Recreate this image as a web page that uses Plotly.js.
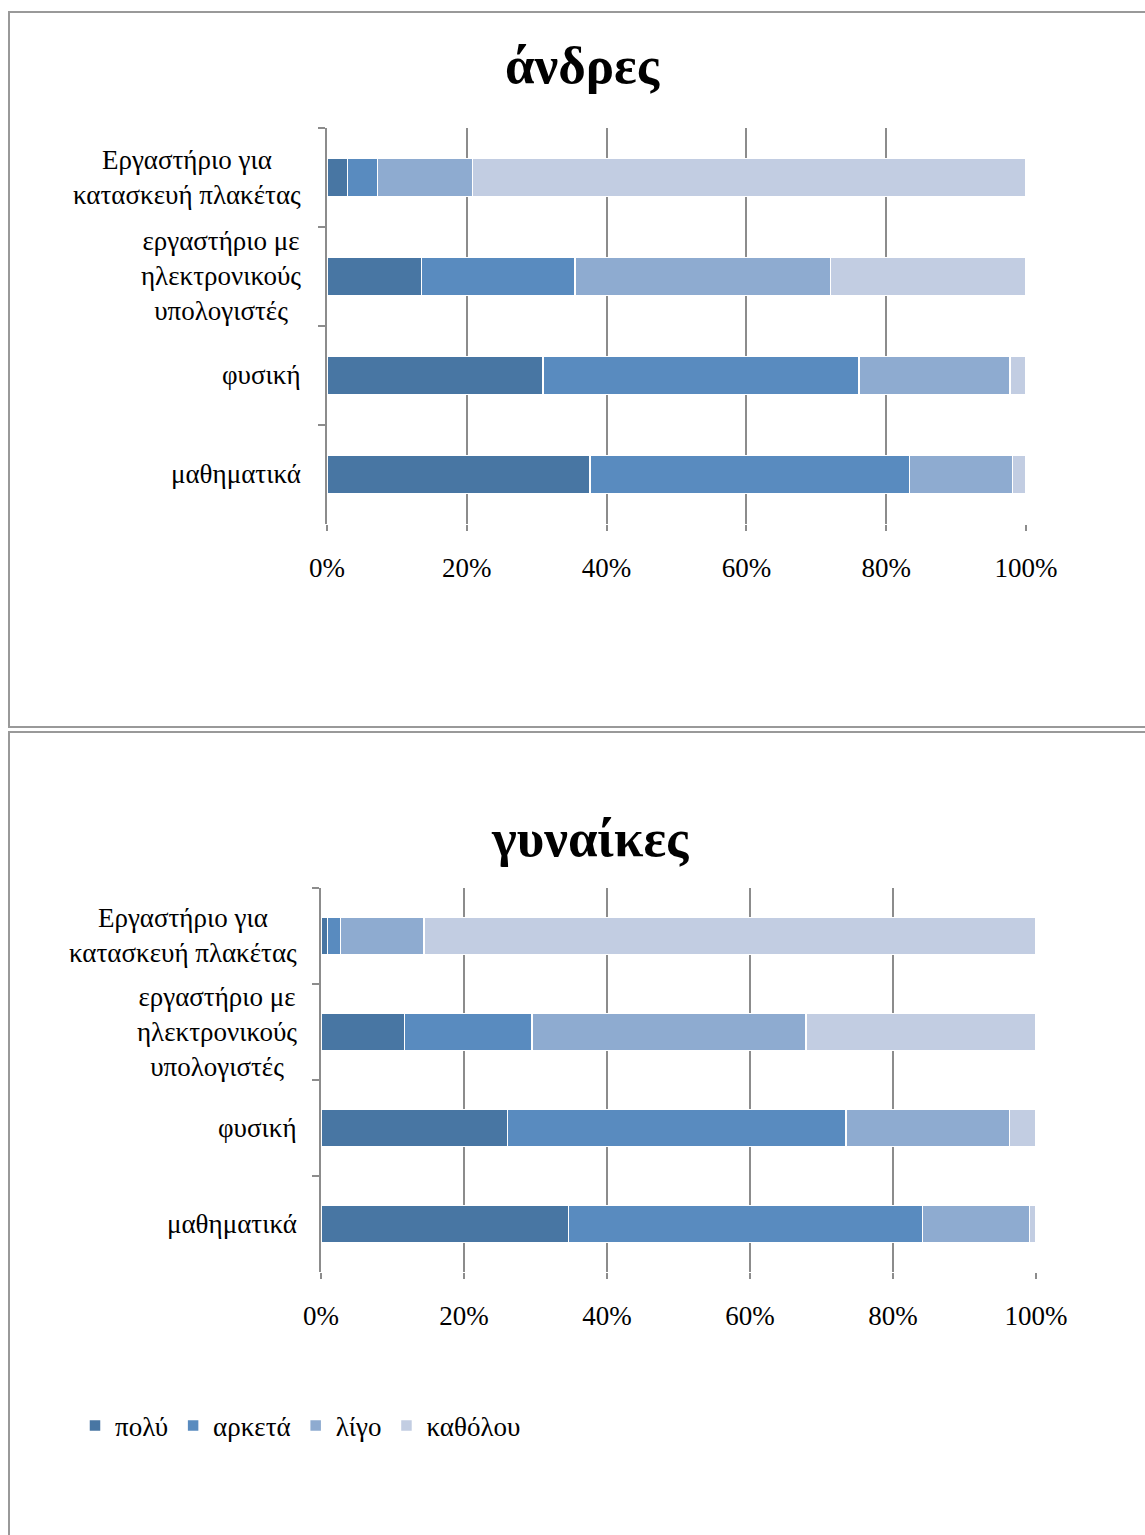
<!DOCTYPE html>
<html>
<head>
<meta charset="utf-8">
<script src="https://cdn.plot.ly/plotly-3.0.1.min.js"></script>
<style>
html,body{margin:0;padding:0;background:#fff;}
#chart{width:1145px;height:1535px;}
</style>
</head>
<body>
<div id="chart"></div>
<script>
// Categories, top to bottom
const categories = [
  "Εργαστήριο για<br>κατασκευή πλακέτας",
  "εργαστήριο με<br>ηλεκτρονικούς<br>υπολογιστές",
  "φυσική",
  "μαθηματικά"
];
const seriesNames = ["πολύ", "αρκετά", "λίγο", "καθόλου"];
const seriesColors = ["#4876A3", "#598BBF", "#8EABD0", "#C2CDE2"];

// άνδρες (percent)
const men_poly    = [2.9, 13.5, 30.9, 37.6];
const men_arketa  = [4.3, 22.0, 45.2, 45.7];
const men_ligo    = [13.6, 36.5, 21.6, 14.8];
const men_katholou= [79.2, 28.0, 2.3, 1.9];

// γυναίκες (percent)
const women_poly    = [0.9, 11.7, 26.1, 34.6];
const women_arketa  = [1.8, 17.8, 47.3, 49.5];
const women_ligo    = [11.7, 38.3, 22.9, 15.0];
const women_katholou= [85.6, 32.2, 3.7, 0.9];

const xTickVals = [0, 20, 40, 60, 80, 100];
const xTickText = ["0%", "20%", "40%", "60%", "80%", "100%"];

const titles = ["άνδρες", "γυναίκες"];

const FONT = "Liberation Serif, Times New Roman, serif";
const FS = 27;
const menSeries = [men_poly, men_arketa, men_ligo, men_katholou];
const womenSeries = [women_poly, women_arketa, women_ligo, women_katholou];

const traces = [];
menSeries.forEach((vals, i) => {
  traces.push({
    type: "bar", orientation: "h",
    x: vals, y: categories,
    name: seriesNames[i],
    marker: {color: seriesColors[i], line: {color: "#ffffff", width: 1.5}},
    xaxis: "x", yaxis: "y",
    legendgroup: seriesNames[i],
    showlegend: false,
    hoverinfo: "x+name"
  });
});
womenSeries.forEach((vals, i) => {
  traces.push({
    type: "bar", orientation: "h",
    x: vals, y: categories,
    name: seriesNames[i],
    marker: {color: seriesColors[i], line: {color: "#ffffff", width: 1.5}},
    xaxis: "x2", yaxis: "y2",
    legendgroup: seriesNames[i],
    showlegend: true,
    hoverinfo: "x+name"
  });
});

const H = 1535, W = 1145;
const py = v => 1 - v / H;
const px = v => v / W;

function xaxisDef(domain, anchor) {
  return {
    domain: domain, anchor: anchor,
    range: [0, 100], fixedrange: true,
    tickvals: xTickVals, ticktext: xTickText,
    showgrid: true, gridcolor: "#8c8c8c", gridwidth: 1.5,
    zeroline: false, showline: false,
    ticks: "outside", ticklen: 6, tickcolor: "#8c8c8c", tickwidth: 1.5,
    ticklabelstandoff: 14,
    tickfont: {family: FONT, size: FS, color: "#000"}
  };
}
function yaxisDef(domain, anchor) {
  return {
    domain: domain, anchor: anchor,
    type: "category", autorange: "reversed",
    showticklabels: false,
    ticks: "outside", tickson: "boundaries", ticklen: 7,
    tickcolor: "#8c8c8c", tickwidth: 1.5,
    showline: true, linecolor: "#8c8c8c", linewidth: 1.5,
    showgrid: false, zeroline: false, fixedrange: true
  };
}

const annotations = [];
categories.forEach(c => {
  annotations.push({
    xref: "x domain", yref: "y", x: 0, y: c, xanchor: "right", yanchor: "middle",
    xshift: -24, align: "center", showarrow: false, text: c,
    font: {family: FONT, size: FS, color: "#000"}
  });
  annotations.push({
    xref: "x2 domain", yref: "y2", x: 0, y: c, xanchor: "right", yanchor: "middle",
    xshift: -22, align: "center", showarrow: false, text: c,
    font: {family: FONT, size: FS, color: "#000"}
  });
});
annotations.push({
  xref: "paper", yref: "paper", x: px(590), y: py(838), xanchor: "center", yanchor: "middle",
  showarrow: false, text: "<b>" + titles[1] + "</b>",
  font: {family: FONT, size: 53, color: "#000"}
});

const layout = {
  width: W, height: H,
  margin: {l: 0, r: 0, t: 0, b: 0},
  paper_bgcolor: "#ffffff", plot_bgcolor: "rgba(0,0,0,0)",
  barmode: "stack", bargap: 0.615,
  title: {
    text: "<b>" + titles[0] + "</b>",
    x: px(582), xanchor: "center", y: py(64), yanchor: "middle",
    font: {family: FONT, size: 53, color: "#000"}
  },
  xaxis: xaxisDef([px(327), px(1026)], "y"),
  yaxis: yaxisDef([py(524), py(128)], "x"),
  xaxis2: xaxisDef([px(321), px(1036)], "y2"),
  yaxis2: yaxisDef([py(1272), py(888)], "x2"),
  showlegend: true,
  legend: {
    orientation: "h", x: px(75), xanchor: "left", y: py(1426), yanchor: "middle",
    font: {family: FONT, size: FS, color: "#000"},
    traceorder: "normal", itemwidth: 30, itemclick: false, itemdoubleclick: false
  },
  annotations: annotations,
  shapes: [
    {type: "rect", xref: "paper", yref: "paper", x0: px(9), x1: 1.01, y0: py(727), y1: py(12),
     line: {color: "#999999", width: 2}, fillcolor: "rgba(0,0,0,0)", layer: "below"},
    {type: "rect", xref: "paper", yref: "paper", x0: px(9), x1: 1.01, y0: -0.01, y1: py(732),
     line: {color: "#999999", width: 2}, fillcolor: "rgba(0,0,0,0)", layer: "below"}
  ]
};

Plotly.newPlot("chart", traces, layout, {displayModeBar: false, staticPlot: false});
</script>
</body>
</html>
